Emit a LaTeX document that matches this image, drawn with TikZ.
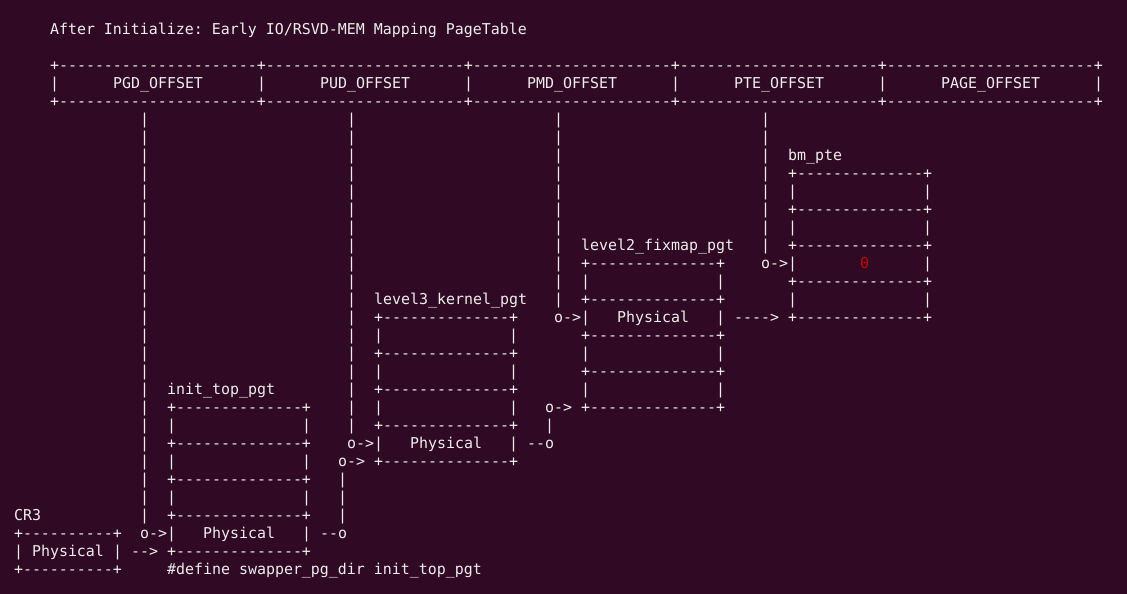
\documentclass[tikz,border=0pt]{standalone}
\usepackage{fontspec}
\setmonofont{DejaVu Sans Mono}
\definecolor{bg}{HTML}{300A24}
\definecolor{fg}{HTML}{EEEEEC}
\definecolor{hl}{HTML}{CC0000}
\newcommand\dashten{----------}
\newcommand\dtw{\dashten\dashten--}
\newcommand\putrun[4]{\node[run] (#1) at ({(14+9*(#2))*1pt},{-(16.3+18*(#3))*1pt}) {#4};}
\newcommand\tablebox[3]{%
  \foreach \k in {0,2,4,6,8} {\putrun{#1b\k}{#2}{#3+\k}{+\dashten----+}}%
  \foreach \k in {1,3,5,7} {\putrun{#1l\k}{#2}{#3+\k}{|}\putrun{#1r\k}{#2+15}{#3+\k}{|}}%
}
\tikzset{run/.style={anchor=base west,inner sep=0pt,outer sep=0pt,text=fg,
  font=\ttfamily\fontsize{14.95pt}{18pt}\selectfont}}
\begin{document}
\begin{tikzpicture}
\fill[bg] (0,0) rectangle (1127pt,-594pt);
\useasboundingbox (0,0) rectangle (1127pt,-594pt);
% title
\putrun{title}{4}{1}{After Initialize: Early IO/RSVD-MEM Mapping PageTable}
% header
\putrun{hdrtop}{4}{3}{+\dtw+\dtw+\dtw+\dtw+\dtw-+}
\putrun{hdrbot}{4}{5}{+\dtw+\dtw+\dtw+\dtw+\dtw-+}
\foreach \c/\nm in {4/a,27/b,50/c,73/d,96/e,120/f} {\putrun{hsep\nm}{\c}{4}{|}}
\putrun{pgdoff}{11}{4}{PGD\_OFFSET}
\putrun{pudoff}{34}{4}{PUD\_OFFSET}
\putrun{pmdoff}{57}{4}{PMD\_OFFSET}
\putrun{pteoff}{80}{4}{PTE\_OFFSET}
\putrun{pageoff}{103}{4}{PAGE\_OFFSET}
% vertical index lines
\foreach \n in {6,...,28} {\putrun{vpgd\n}{14}{\n}{|}}
\foreach \n in {6,...,23} {\putrun{vpud\n}{37}{\n}{|}}
\foreach \n in {6,...,16} {\putrun{vpmd\n}{60}{\n}{|}}
\foreach \n in {6,...,13} {\putrun{vpte\n}{83}{\n}{|}}
\foreach \n in {26,27,28} {\putrun{vini\n}{36}{\n}{|}}
\putrun{vlvlthree}{59}{23}{|}
% bm_pte
\putrun{bmlabel}{86}{8}{bm\_pte}
\tablebox{bm}{86}{9}
\node[run,text=hl] (zero) at ({(14+9*94)*1pt},{-(16.3+18*14)*1pt}) {0};
\putrun{bmptr}{83}{14}{o->}
\putrun{lvtwoout}{80}{17}{---->}
% level2_fixmap_pgt
\putrun{lvtwolabel}{63}{13}{level2\_fixmap\_pgt}
\tablebox{lvtwo}{63}{14}
\putrun{lvtwophys}{67}{17}{Physical}
\putrun{lvtwoptr}{60}{17}{o->}
\putrun{lvtwoin}{59}{22}{o->}
% level3_kernel_pgt
\putrun{lvthreelabel}{40}{16}{level3\_kernel\_pgt}
\tablebox{lvthree}{40}{17}
\putrun{lvthreephys}{44}{24}{Physical}
\putrun{lvthreeptr}{37}{24}{o->}
\putrun{lvthreeout}{57}{24}{--o}
\putrun{lvthreein}{36}{25}{o->}
% init_top_pgt
\putrun{initlabel}{17}{21}{init\_top\_pgt}
\tablebox{init}{17}{22}
\putrun{initphys}{21}{29}{Physical}
\putrun{initptr}{14}{29}{o->}
\putrun{initout}{34}{29}{--o}
\putrun{initin}{13}{30}{-->}
\putrun{define}{17}{31}{\#define swapper\_pg\_dir init\_top\_pgt}
% CR3
\putrun{crlabel}{0}{28}{CR3}
\putrun{crtop}{0}{29}{+\dashten+}
\putrun{crl}{0}{30}{|}
\putrun{crphys}{2}{30}{Physical}
\putrun{crr}{11}{30}{|}
\putrun{crbot}{0}{31}{+\dashten+}
\end{tikzpicture}
\end{document}
